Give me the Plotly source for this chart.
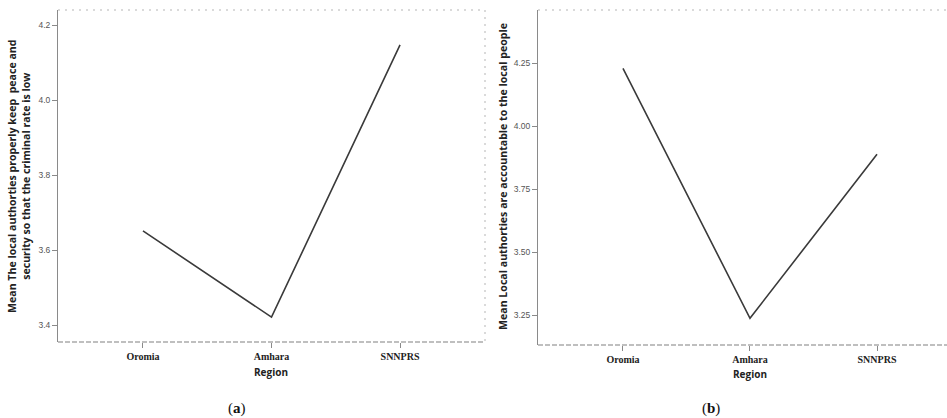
import plotly.graph_objects as go

regions = ["Oromia", "Amhara", "SNNPRS"]
mean_a = [3.651, 3.421, 4.147]
mean_b = [4.230, 3.238, 3.889]

ticks_a = [3.4, 3.6, 3.8, 4.0, 4.2]
ticklabels_a = ["3.4", "3.6", "3.8", "4.0", "4.2"]
ticks_b = [3.25, 3.50, 3.75, 4.00, 4.25]
ticklabels_b = ["3.25", "3.50", "3.75", "4.00", "4.25"]

title_a = "Mean The local authorties properly keep  peace and<br>security so that the criminal rate is low"
title_b = "Mean Local authorties are accountable to the local people"
x_title = "Region"

W, H = 947, 418
def px(x):
    return x / W
def py(y):
    return 1 - y / H

line_col = "#3a3a3a"
axis_col = "#8a8a8a"

fig = go.Figure()
fig.add_trace(go.Scatter(x=regions, y=mean_a, mode="lines",
                         line=dict(color=line_col, width=1.6),
                         xaxis="x", yaxis="y", showlegend=False, hoverinfo="skip"))
fig.add_trace(go.Scatter(x=regions, y=mean_b, mode="lines",
                         line=dict(color=line_col, width=1.6),
                         xaxis="x2", yaxis="y2", showlegend=False, hoverinfo="skip"))

xcommon = dict(type="category", showgrid=False, zeroline=False, showline=False,
               ticks="outside", ticklen=5, tickcolor=axis_col, tickwidth=1,
               tickfont=dict(family="Liberation Serif", size=10, color="#222", weight="bold"))
ycommon = dict(showgrid=False, zeroline=False, showline=True, linecolor=axis_col, linewidth=1,
               ticks="outside", ticklen=5, tickcolor=axis_col, tickwidth=1,
               tickfont=dict(family="Liberation Sans Narrow, Liberation Sans", size=8.5, color="#555"))

fig.update_layout(
    width=W, height=H,
    margin=dict(l=0, r=0, t=0, b=0, autoexpand=False),
    paper_bgcolor="white", plot_bgcolor="white",
    xaxis=dict(domain=[px(58), px(485)], range=[-0.661, 2.661], anchor="y", **xcommon),
    yaxis=dict(domain=[py(342), py(10)], range=[3.3547, 4.24], anchor="x",
               tickvals=ticks_a, ticktext=ticklabels_a, **ycommon),
    xaxis2=dict(domain=[px(538), 1.0], range=[-0.669, 2.551], anchor="y2", **xcommon),
    yaxis2=dict(domain=[py(345), py(10)], range=[3.132, 4.4615], anchor="x2",
                tickvals=ticks_b, ticktext=ticklabels_b, **ycommon),
)

shapes = []
dot = dict(color="#b5b5b5", width=1, dash="2px,5px")
base = dict(color="#808080", width=1.2, dash="5px,2px")
# panel a frame
shapes.append(dict(type="line", xref="paper", yref="paper", x0=px(58), x1=px(485), y0=py(10), y1=py(10), line=dot))
shapes.append(dict(type="line", xref="paper", yref="paper", x0=px(485), x1=px(485), y0=py(10), y1=py(342), line=dot))
shapes.append(dict(type="line", xref="paper", yref="paper", x0=px(58), x1=px(485), y0=py(342), y1=py(342), line=base))
# panel b frame
shapes.append(dict(type="line", xref="paper", yref="paper", x0=px(538), x1=1.0, y0=py(10), y1=py(10), line=dot))
shapes.append(dict(type="line", xref="paper", yref="paper", x0=px(538), x1=1.0, y0=py(345), y1=py(345), line=base))
fig.update_layout(shapes=shapes)

title_font = dict(family="Open Sans", size=10.6, color="#222", weight="bold")
ann = []
ann.append(dict(text=title_a, x=px(19), y=py(176), xref="paper", yref="paper", textangle=-90,
                showarrow=False, font=title_font, xanchor="center", yanchor="middle"))
ann.append(dict(text=title_b, x=px(503), y=py(177), xref="paper", yref="paper", textangle=-90,
                showarrow=False, font=title_font, xanchor="center", yanchor="middle"))
ann.append(dict(text=x_title, x=px(271), y=py(372), xref="paper", yref="paper", showarrow=False,
                font=dict(family="Open Sans", size=10, color="#222", weight="bold"),
                xanchor="center", yanchor="middle"))
ann.append(dict(text=x_title, x=px(750), y=py(374), xref="paper", yref="paper", showarrow=False,
                font=dict(family="Open Sans", size=10, color="#222", weight="bold"),
                xanchor="center", yanchor="middle"))
ann.append(dict(text="(<b>a</b>)", x=px(237), y=0, xref="paper", yref="paper", showarrow=False,
                font=dict(family="Liberation Serif", size=15, color="#111"),
                xanchor="center", yanchor="bottom", borderpad=0))
ann.append(dict(text="(<b>b</b>)", x=px(711), y=0, xref="paper", yref="paper", showarrow=False,
                font=dict(family="Liberation Serif", size=15, color="#111"),
                xanchor="center", yanchor="bottom", borderpad=0))
fig.update_layout(annotations=ann)

fig.write_html("out.html", config={"displayModeBar": False},
               post_script="document.body.style.margin='0';document.body.style.padding='0';")
